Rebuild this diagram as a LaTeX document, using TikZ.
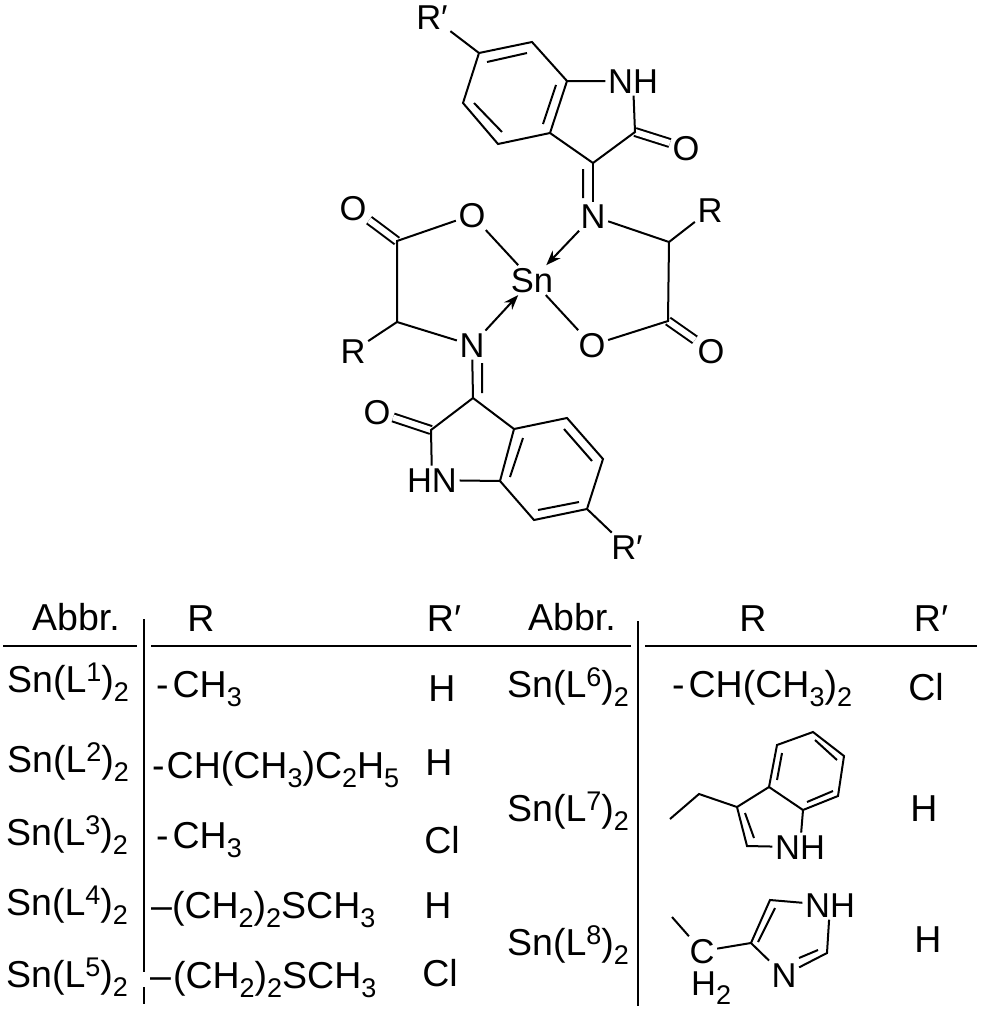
\documentclass[tikz,border=0pt]{standalone}
\usepackage{fontspec}
\setmainfont{Liberation Sans}
\usetikzlibrary{arrows.meta}
\newcommand{\subs}[1]{\raisebox{-9.5pt}{\fontsize{27}{27}\selectfont #1}}
\newcommand{\sups}[1]{\raisebox{11pt}{\fontsize{27}{27}\selectfont #1}}
\tikzset{
	atom/.style={anchor=base, inner sep=2.5pt, font=\fontsize{34.5}{40}\selectfont},
	lefttxt/.style={anchor=base west, inner sep=0pt, font=\fontsize{37.5}{44}\selectfont},
	midtxt/.style={anchor=base, inner sep=0pt, font=\fontsize{37.5}{44}\selectfont},
	bond/.style={line width=2pt, line join=miter},
	dbl/.style={line width=2pt, double, double distance=6pt},
	dative/.style={line width=2pt, -{Stealth[length=15pt, width=11pt]}},
	rule/.style={line width=2pt}
}
\begin{document}
\begin{tikzpicture}[x=1pt, y=-1pt]
	\useasboundingbox (0,0) rectangle (983,1012);

	% upper isatin part
	\node[atom] (rp1) at (432,29) {R′};
	\node[atom] (nh1) at (633,93) {NH};
	\node[atom] (oa) at (686,160) {O};
	\node[atom] (na) at (593,228) {N};
	\node[atom] (ra) at (710,222) {R};
	\node[atom] (sn) at (532,292) {Sn};
	\node[atom] (ob) at (472,227) {O};
	\node[atom] (oc) at (353,220) {O};
	\coordinate (a1) at (479,53); \coordinate (a2) at (532,42); \coordinate (a3) at (567,81);
	\coordinate (a4) at (550,133); \coordinate (a5) at (498,144); \coordinate (a6) at (463,103);
	\coordinate (a7) at (635,132); \coordinate (a8) at (593,163);
	\coordinate (i1) at (487,62); \coordinate (i2) at (527,53);
	\coordinate (i3) at (556,85); \coordinate (i4) at (543,124);
	\coordinate (i5) at (502,132); \coordinate (i6) at (474,103);
	\coordinate (i7) at (583,169); \coordinate (i8) at (583,198);
	\coordinate (ca) at (669,242); \coordinate (cb) at (668,321);
	\coordinate (cc) at (397,241); \coordinate (cd) at (397,322);

	% lower isatin part
	\node[atom] (rb) at (353,363) {R};
	\node[atom] (nb) at (472,357) {N};
	\node[atom] (od) at (592,357) {O};
	\node[atom] (oe) at (711,363) {O};
	\node[atom] (of) at (377,424) {O};
	\node[atom] (nh2) at (432,492) {HN};
	\node[atom] (rp2) at (627,559) {R′};
	\coordinate (b1) at (587,509); \coordinate (b2) at (534,520); \coordinate (b3) at (500,481);
	\coordinate (b4) at (514,429); \coordinate (b5) at (567,418); \coordinate (b6) at (603,459);
	\coordinate (b7) at (431,430); \coordinate (b8) at (473,398);
	\coordinate (j1) at (579,502); \coordinate (j2) at (538,510);
	\coordinate (j3) at (510,477); \coordinate (j4) at (523,438);
	\coordinate (j5) at (564,429); \coordinate (j6) at (592,461);
	\coordinate (j7) at (482,363); \coordinate (j8) at (482,393);

	\draw[dbl] (a7) -- (oa);
	\draw[dbl] (cb) -- (oe);
	\draw[dbl] (cc) -- (oc);
	\draw[dbl] (b7) -- (of);

	\draw[bond] (rp1) -- (a1);
	\draw[bond] (a1) -- (a2) -- (a3) -- (a4) -- (a5) -- (a6) -- cycle;
	\draw[bond] (a3) -- (nh1) -- (a7) -- (a8) -- (a4);
	\draw[bond] (i1) -- (i2) (i3) -- (i4) (i5) -- (i6) (i7) -- (i8);
	\draw[bond] (a8) -- (na);
	\draw[bond] (na) -- (ca) -- (ra);
	\draw[bond] (ca) -- (cb) -- (od) -- (sn);
	\draw[bond] (sn) -- (ob) -- (cc) -- (cd) -- (rb);
	\draw[bond] (cd) -- (nb);
	\draw[dative] (na) -- (sn);
	\draw[dative] (nb) -- (sn);

	\draw[bond] (rp2) -- (b1) -- (b2) -- (b3) -- (b4) -- (b5) -- (b6) -- (b1);
	\draw[bond] (b3) -- (nh2) -- (b7) -- (b8) -- (b4);
	\draw[bond] (j1) -- (j2) (j3) -- (j4) (j5) -- (j6) (j7) -- (j8);
	\draw[bond] (b8) -- (nb);

	% table rules
	\coordinate (h1) at (3,646); \coordinate (h2) at (137,646);
	\coordinate (h3) at (151,646); \coordinate (h4) at (631,646);
	\coordinate (h5) at (645,646); \coordinate (h6) at (977,646);
	\coordinate (v1) at (143.5,619); \coordinate (v2) at (143.5,972);
	\coordinate (v3) at (143.5,987); \coordinate (v4) at (143.5,1004);
	\coordinate (v5) at (638,621); \coordinate (v6) at (638,1006);
	\draw[rule] (h1) -- (h2) (h3) -- (h4) (h5) -- (h6);
	\draw[rule] (v1) -- (v2) (v3) -- (v4) (v5) -- (v6);

	% left half of the table
	\node[midtxt] (abbr1) at (76,630) {Abbr.};
	\node[midtxt] (rhead1) at (201,631) {R};
	\node[midtxt] (rphead1) at (444,631) {R′};
	\node[lefttxt] (sn1) at (7,692) {Sn(L\sups{1})\subs{2}};
	\node[lefttxt] (sn2) at (7,772) {Sn(L\sups{2})\subs{2}};
	\node[lefttxt] (sn3) at (6,845) {Sn(L\sups{3})\subs{2}};
	\node[lefttxt] (sn4) at (6,915) {Sn(L\sups{4})\subs{2}};
	\node[lefttxt] (sn5) at (6,987) {Sn(L\sups{5})\subs{2}};
	\node[lefttxt] (ra1) at (156,697) {-\hspace{4pt}CH\subs{3}};
	\node[lefttxt] (ra2) at (152,778) {-\hspace{2pt}CH(CH\subs{3})C\subs{2}H\subs{5}};
	\node[lefttxt] (ra3) at (156,848) {-\hspace{4pt}CH\subs{3}};
	\node[lefttxt] (ra4) at (151,918) {–(CH\subs{2})\subs{2}SCH\subs{3}};
	\node[lefttxt] (ra5) at (150,988) {–\hspace{2pt}(CH\subs{2})\subs{2}SCH\subs{3}};
	\node[midtxt] (rp11) at (442,701) {H};
	\node[midtxt] (rp12) at (439,775) {H};
	\node[midtxt] (rp13) at (442,853) {Cl};
	\node[midtxt] (rp14) at (438,918) {H};
	\node[midtxt] (rp15) at (440,986) {Cl};

	% right half of the table
	\node[midtxt] (abbr2) at (572,630) {Abbr.};
	\node[midtxt] (rhead2) at (753,631) {R};
	\node[midtxt] (rphead2) at (931,631) {R′};
	\node[lefttxt] (sn6) at (507,697) {Sn(L\sups{6})\subs{2}};
	\node[lefttxt] (sn7) at (507,821) {Sn(L\sups{7})\subs{2}};
	\node[lefttxt] (sn8) at (507,955) {Sn(L\sups{8})\subs{2}};
	\node[lefttxt] (ra6) at (672,697) {-\hspace{4pt}CH(CH\subs{3})\subs{2}};
	\node[midtxt] (rp16) at (926,700) {Cl};
	\node[midtxt] (rp17) at (924,821) {H};
	\node[midtxt] (rp18) at (928,952) {H};

	% indole side chain
	\node[atom] (nh3) at (800,859) {NH};
	\coordinate (t1) at (670,819); \coordinate (t2) at (699,794); \coordinate (t3) at (737,807);
	\coordinate (t4) at (769,787); \coordinate (t5) at (777,745); \coordinate (t6) at (813,732);
	\coordinate (t7) at (844,756); \coordinate (t8) at (838,796); \coordinate (t9) at (803,810);
	\coordinate (t10) at (747,846);
	\coordinate (k1) at (782,753); \coordinate (k2) at (777,780);
	\coordinate (k3) at (815,740); \coordinate (k4) at (837,760);
	\coordinate (k5) at (807,802); \coordinate (k6) at (833,791);
	\coordinate (k7) at (745,813); \coordinate (k8) at (754,838);
	\draw[bond] (t1) -- (t2) -- (t3) -- (t4) -- (t5) -- (t6) -- (t7) -- (t8) -- (t9) -- (t4);
	\draw[bond] (t3) -- (t10) -- (nh3) -- (t9);
	\draw[bond] (k1) -- (k2) (k3) -- (k4) (k5) -- (k6) (k7) -- (k8);

	% imidazole side chain
	\node[atom] (ch) at (702,963) {C};
	\node[lefttxt, font=\fontsize{34.5}{40}\selectfont] (h2) at (691,995) {H\subs{2}};
	\node[atom] (nh4) at (830,917) {NH};
	\node[atom] (nc) at (784,987) {N};
	\coordinate (m1) at (672,917); \coordinate (m2) at (751,943);
	\coordinate (m3) at (770,900); \coordinate (m4) at (827,953);
	\coordinate (k9) at (799,958); \coordinate (k10) at (818,950);
	\coordinate (k11) at (758,942); \coordinate (k12) at (775,908);
	\draw[bond] (m1) -- (ch) -- (m2) -- (m3) -- (nh4) -- (m4) -- (nc) -- (m2);
	\draw[bond] (k9) -- (k10) (k11) -- (k12);
\end{tikzpicture}
\end{document}
